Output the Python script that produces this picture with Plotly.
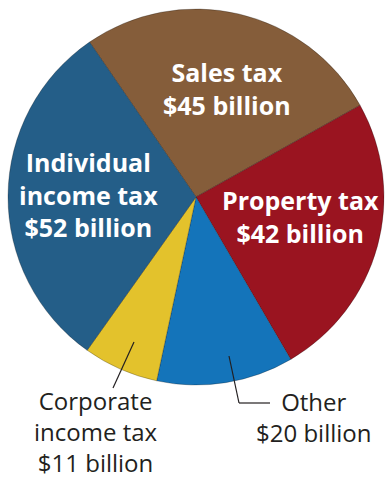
import plotly.graph_objects as go

labels = ["Sales tax", "Property tax", "Other", "Corporate income tax", "Individual income tax"]
values = [45, 42, 20, 11, 52]
colors = ["#855D3A", "#9A1420", "#1474BA", "#E3C22C", "#245E88"]
label_text = ["Sales tax<br>$45 billion", "Property tax<br>$42 billion", "Other<br>$20 billion",
              "Corporate<br>income tax<br>$11 billion", "Individual<br>income tax<br>$52 billion"]

W, H = 388, 479
def px(x, y):
    return x / W, 1 - y / H

cx, cy, r = 196, 197, 188
x0, y0 = px(cx - r, cy + r)
x1, y1 = px(cx + r, cy - r)

fig = go.Figure(go.Pie(
    labels=labels, values=values, sort=False, direction="clockwise", rotation=-34.5,
    marker=dict(colors=colors, line=dict(color="rgba(0,0,0,0.25)", width=1)),
    textinfo="none", hoverinfo="label+value", showlegend=False,
    domain=dict(x=[x0, x1], y=[y0, y1]),
))

# slice index -> (center x, middle baseline y, inside?)
placement = {0: (227, 97.5, True), 4: (88, 203, True), 1: (300, 226, True),
             3: (96, 440, False), 2: (313, 426, False)}
annotations = []
for i, (x, yb, ins) in placement.items():
    fnt = (dict(family="Open Sans", size=25, color="white", weight="bold") if ins
           else dict(family="Open Sans", size=24, color="#231F20"))
    ax, ay = px(x, yb - 0.36 * fnt["size"])
    annotations.append(dict(text=label_text[i], x=ax, y=ay, xref="paper", yref="paper",
                            showarrow=False, font=fnt, xanchor="center", yanchor="middle"))

shapes = []
for (xa, ya), (xb, yb) in [((134, 342), (113, 388)), ((229, 356), (239, 403)), ((239, 403), (270, 403))]:
    pa, qa = px(xa, ya)
    pb, qb = px(xb, yb)
    shapes.append(dict(type="line", xref="paper", yref="paper", x0=pa, y0=qa, x1=pb, y1=qb,
                       line=dict(color="#231F20", width=1.2)))

fig.update_layout(width=W, height=H, margin=dict(l=0, r=0, t=0, b=0),
                  paper_bgcolor="white", annotations=annotations, shapes=shapes)
fig.write_html("out.html", config={"displayModeBar": False},
               post_script="document.body.style.margin='0';document.body.style.overflow='hidden';")
